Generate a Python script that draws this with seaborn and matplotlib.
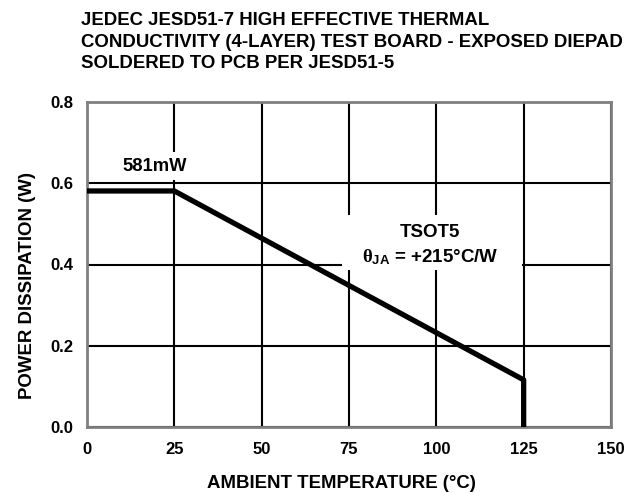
import matplotlib
matplotlib.use("Agg")
import matplotlib.pyplot as plt
from matplotlib.patches import Rectangle
import seaborn as sns

# Derating curve: ambient temperature (°C) vs. allowed power dissipation (W)
temperature_c = [0, 25, 125, 125]
power_w = [0.581, 0.581, 0.116, 0.0]

x_ticks = [0, 25, 50, 75, 100, 125, 150]
y_ticks = [0.0, 0.2, 0.4, 0.6, 0.8]
y_tick_labels = ["0.0", "0.2", "0.4", "0.6", "0.8"]

title_lines = [
    "JEDEC JESD51-7 HIGH EFFECTIVE THERMAL",
    "CONDUCTIVITY (4-LAYER) TEST BOARD - EXPOSED DIEPAD",
    "SOLDERED TO PCB PER JESD51-5",
]

sns.set_theme(style="white")
plt.rcParams["font.family"] = ["Liberation Sans", "DejaVu Sans"]
plt.rcParams["font.weight"] = "bold"
plt.rcParams["text.color"] = "black"
plt.rcParams["axes.labelcolor"] = "black"
plt.rcParams["xtick.color"] = "black"
plt.rcParams["ytick.color"] = "black"
plt.rcParams["mathtext.fontset"] = "custom"
plt.rcParams["mathtext.rm"] = "Liberation Serif"
plt.rcParams["mathtext.bf"] = "Liberation Sans:bold"
plt.rcParams["mathtext.it"] = "Liberation Serif"

fig = plt.figure(figsize=(6.28, 4.93), dpi=100)
ax = fig.add_axes([87 / 628, 1 - 427 / 493, 524 / 628, 325 / 493])

ax.set_xlim(0, 150)
ax.set_ylim(0, 0.8)
ax.set_xticks(x_ticks)
ax.set_yticks(y_ticks)
ax.set_yticklabels(y_tick_labels)
ax.tick_params(axis="both", length=0, labelsize=12)
ax.tick_params(axis="x", pad=11)
ax.tick_params(axis="y", pad=10)
for lbl in ax.get_xticklabels() + ax.get_yticklabels():
    lbl.set_fontweight("bold")

ax.grid(True, color="black", linewidth=1.5)
ax.set_axisbelow(True)
for side in ax.spines.values():
    side.set_color("#808080")
    side.set_linewidth(2)

sns.lineplot(x=temperature_c, y=power_w, estimator=None, sort=False,
             color="black", linewidth=3.8, ax=ax, zorder=4)

# label for the flat (maximum) section
ax.text(19.5, 0.642, "581mW", ha="center", va="center", fontsize=13.2,
        fontweight="bold", zorder=5,
        bbox=dict(facecolor="white", edgecolor="none",
                  boxstyle="square,pad=0.3"))

# package / thermal resistance annotation on a white panel
ax.add_patch(Rectangle((73, 0.386), 51.5, 0.136, facecolor="white",
                       edgecolor="none", zorder=3))
ax.text(98.2, 0.468, "TSOT5", ha="center", va="baseline", fontsize=13.5,
        fontweight="bold", zorder=5)
ax.text(98.2, 0.406, r"$\theta_{\mathbf{JA}}$" + " = +215°C/W",
        ha="center", va="baseline", fontsize=13.5, fontweight="bold",
        zorder=5)

ax.set_xlabel("AMBIENT TEMPERATURE (°C)", fontsize=13.4, fontweight="bold")
ax.set_ylabel("POWER DISSIPATION (W)", fontsize=13.4, fontweight="bold")
ax.xaxis.set_label_coords(0.485, -0.148)
ax.yaxis.set_label_coords(-0.097, 0.434)

fig.text(81 / 628, 1 - 12 / 493, "\n".join(title_lines), ha="left", va="top",
         fontsize=13.4, fontweight="bold", linespacing=1.36)

fig.savefig("out.png", dpi=100)
